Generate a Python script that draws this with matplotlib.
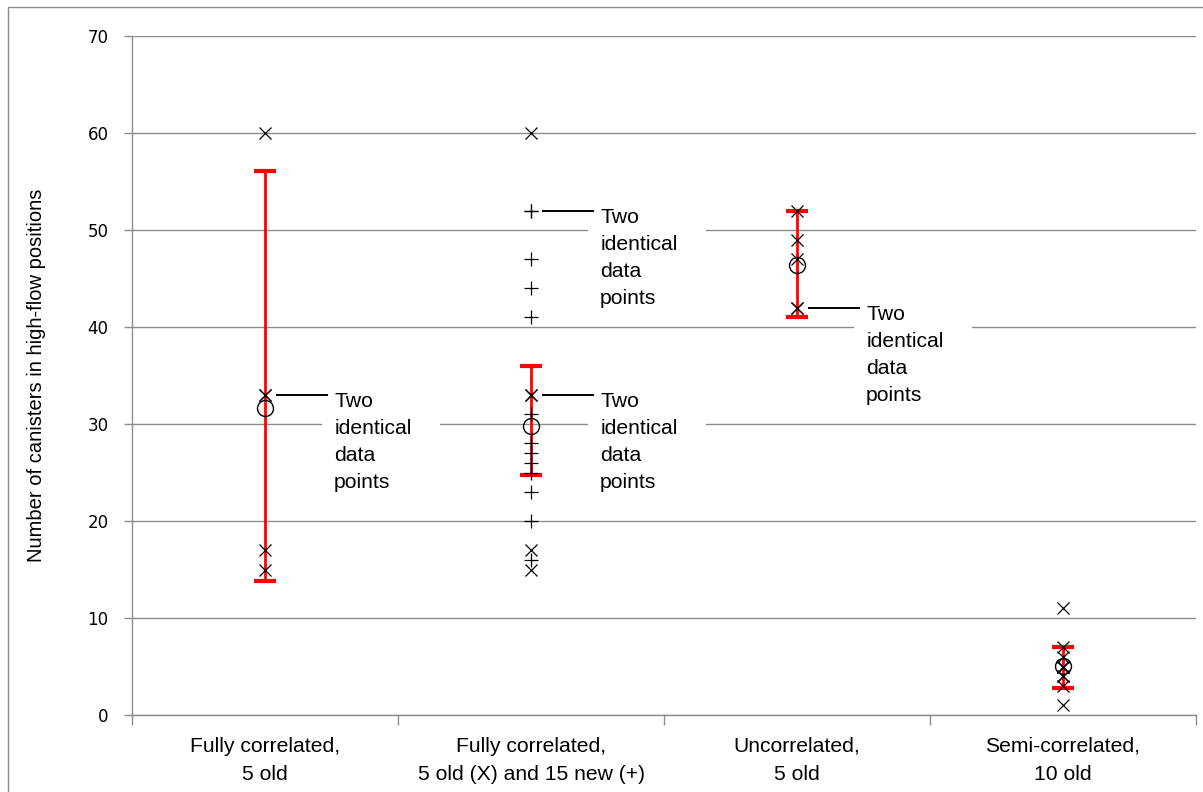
import matplotlib
matplotlib.use("Agg")
import matplotlib.pyplot as plt
from matplotlib.patches import Rectangle
from matplotlib import font_manager as fm

# ---------------- data ----------------
categories = ["Fully correlated,\n5 old",
              "Fully correlated,\n5 old (X) and 15 new (+)",
              "Uncorrelated,\n5 old",
              "Semi-correlated,\n10 old"]
cat_pos = [0.5, 1.5, 2.5, 3.5]

# "old" data points (X markers), per category
old_points = [
    [60, 33, 33, 17, 15],
    [60, 33, 33, 17, 15],
    [52, 49, 47, 42, 42],
    [11, 7, 6, 5, 5, 5, 4, 4, 3, 1],
]
# "new" data points (+ markers), category 2 only
new_points = [52, 52, 47, 44, 41, 31, 28, 27, 26, 25, 23, 20, 16]

# mean (open circle) and interval (red bars)
means = [31.6, 29.8, 46.4, 5.1]
err_low = [13.8, 24.7, 41.0, 2.8]
err_high = [56.1, 36.0, 52.0, 7.0]

# annotations: (category index, value)
annotations = [(0, 33), (1, 52), (1, 33), (2, 42)]
annot_text = ["Two", "identical", "data", "points"]

yticks = [0, 10, 20, 30, 40, 50, 60, 70]
ylabel = "Number of canisters in high-flow positions"

# ---------------- fonts ----------------
avail = {f.name for f in fm.fontManager.ttflist}
narrow = "Liberation Sans Narrow" if "Liberation Sans Narrow" in avail else "Liberation Sans"

GRID = "#8c8c8c"

fig = plt.figure(figsize=(12.03, 7.92), dpi=100)
ax = fig.add_axes([132 / 1203, 1 - 715 / 792, (1196 - 132) / 1203, (715 - 36) / 792])

# outer chart border
fig.patches.append(Rectangle((8 / 1203, -0.01), 1.0, 1 - 7 / 792 + 0.01,
                             transform=fig.transFigure, fill=False,
                             edgecolor=GRID, lw=1.0, zorder=0))

ax.set_xlim(0, 4)
ax.set_ylim(0, 70)
ax.set_yticks(yticks)
ax.set_xticks([0, 1, 2, 3, 4])
ax.set_xticklabels([])
ax.yaxis.grid(True, color=GRID, lw=1.0, zorder=0)
ax.set_axisbelow(True)
for s in ["top", "right"]:
    ax.spines[s].set_visible(False)
for s in ["left", "bottom"]:
    ax.spines[s].set_color(GRID)
    ax.spines[s].set_linewidth(1.0)
ax.tick_params(axis="y", length=6, width=1, color=GRID, pad=11,
               labelsize=12, labelcolor="black")
ax.tick_params(axis="x", length=7, width=1, color=GRID)
for lab in ax.get_yticklabels():
    lab.set_fontfamily("DejaVu Sans")

ax.set_ylabel(ylabel, fontsize=14.5, family=narrow, labelpad=30)

TXT = 15.2
# category labels
for c, lab in zip(cat_pos, categories):
    l1, l2 = lab.split("\n")
    ax.text(c, -37 / 679, l1, transform=ax.get_xaxis_transform(), ha="center",
            va="baseline", fontsize=TXT, family="Liberation Sans")
    ax.text(c, -65 / 679, l2, transform=ax.get_xaxis_transform(), ha="center",
            va="baseline", fontsize=TXT, family="Liberation Sans")

# annotation boxes (white) with leader lines
for ci, v in annotations:
    c = cat_pos[ci]
    ax.add_patch(Rectangle((c + 0.214, v - 11.3), 0.444, 12.3, facecolor="white",
                           edgecolor="none", zorder=1.5))
    ax.plot([c + 0.04, c + 0.235], [v, v], color="black", lw=1.4, zorder=3,
            solid_capstyle="butt")
    for k, t in enumerate(annot_text):
        ax.annotate(t, xy=(c + 0.26, v), xytext=(0, -8.6 - 19.44 * k),
                    textcoords="offset points", ha="left", va="baseline",
                    fontsize=TXT, family="Liberation Sans", zorder=4)

# red interval bars
yerr = [[m - lo for m, lo in zip(means, err_low)],
        [hi - m for m, hi in zip(means, err_high)]]
ax.errorbar(cat_pos, means, yerr=yerr, fmt="none", ecolor="#ff0000",
            elinewidth=2.0, capsize=8, capthick=3, zorder=2)

# data points
for c, pts in zip(cat_pos, old_points):
    ax.plot([c] * len(pts), pts, linestyle="none", marker="x", ms=8.5,
            mew=0.9, color="black", zorder=3)
ax.plot([cat_pos[1]] * len(new_points), new_points, linestyle="none",
        marker="+", ms=10.5, mew=0.9, color="black", zorder=3)
ax.plot(cat_pos, means, linestyle="none", marker="o", ms=11.5, mfc="none",
        mec="black", mew=1.0, zorder=3)

fig.savefig("out.png", dpi=100)
